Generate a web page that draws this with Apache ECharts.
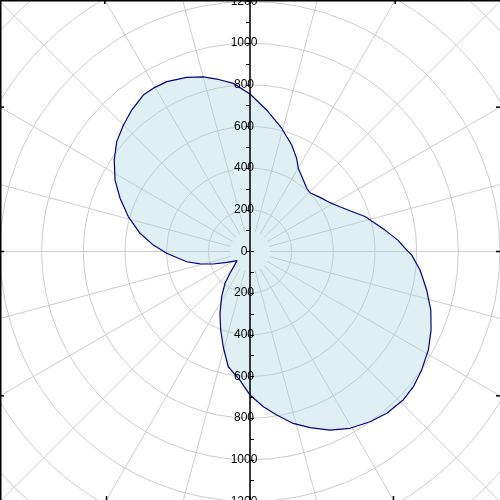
<!DOCTYPE html>
<html>
<head>
<meta charset="utf-8">
<script src="https://cdn.jsdelivr.net/npm/echarts@6/dist/echarts.min.js"></script>
<style>
  html, body { margin: 0; padding: 0; background: #fff; }
  #main { width: 500px; height: 500px; }
</style>
</head>
<body>
<div id="main"></div>
<script>
  // 曲线上读出的点：角度（度，逆时针，0 = 正东）和半径
  var angleValues = [44.4, 48.1, 53.3, 59.9, 63.4, 68.6, 75.6, 83.3, 90, 95.7, 100.9, 105.0,
    110.0, 116.1, 120.6, 124.3, 129.9, 135.0, 140.5, 146.0, 152.1, 157.7, 164.0, 170.6,
    176.2, 181.2, 189.2, 194.0, 198.8, 204.9, 215.3, 227.5, 231.8, 237.9, 244.1, 249.5,
    254.3, 259.3, 265.5, 270, 274.9, 279.3, 284.1, 288.8, 294.1, 299.5, 305.2, 310.2,
    315.9, 320.4, 325.4, 331.1, 336.6, 342.1, 347.7, 353.8, 358.8, 0.5, 4.4, 9.0,
    16.9, 22.2, 26.5, 31.4, 37.7, 44.4];
  var radiusValues = [403, 408, 428, 462, 500, 549, 611, 684, 756, 811, 843, 868,
    889, 908, 911, 909, 885, 859, 829, 786, 733, 674, 608, 535,
    465, 400, 308, 247, 186, 123, 76, 142, 194, 256, 330, 402,
    475, 563, 619, 689, 748, 795, 851, 893, 939, 975, 1000, 1017,
    1024, 1018, 1001, 978, 947, 912, 868, 821, 776, 752, 712, 656,
    577, 518, 482, 450, 425, 403];

  // 坐标轴刻度
  var radiusMax = 1800;
  var gridStep = 200;    // 同心圆、标签间隔
  var tickStep = 100;    // 半径轴小刻度间隔
  var angleStep = 15;
  var frameTickAngles = [0, 30, 60, 90, 120, 150, 180, 210, 240, 270, 300, 330];

  var W = 500, H = 500;
  var cx = 250, cy = 251.5;
  var outerR = 375;   // 1800 对应的像素半径
  var gridColor = '#cccccc';
  var labelFont = 'Liberation Sans';

  var seriesData = angleValues.map(function (a, i) {
    return [radiusValues[i], a];
  });

  // 边框上的角度刻度
  var graphics = [
    { type: 'line', shape: { x1: 0, y1: 0.75, x2: W, y2: 0.75 }, style: { stroke: '#000', lineWidth: 1.5 }, z: 10 },
    { type: 'line', shape: { x1: 0.75, y1: 0, x2: 0.75, y2: H }, style: { stroke: '#000', lineWidth: 1.5 }, z: 10 }
  ];
  frameTickAngles.forEach(function (a) {
    var rad = a * Math.PI / 180;
    var dx = Math.cos(rad), dy = -Math.sin(rad);
    var tx = Math.abs(dx) < 1e-9 ? Infinity : (dx > 0 ? (W - cx) / dx : -cx / dx);
    var ty = Math.abs(dy) < 1e-9 ? Infinity : (dy > 0 ? (H - cy) / dy : -cy / dy);
    var shape;
    if (tx < ty) {
      var py = cy + tx * dy, px = dx > 0 ? W : 0;
      shape = { x1: px, y1: py, x2: px + (dx > 0 ? -4 : 4), y2: py };
    } else {
      var qx = cx + ty * dx, qy = dy > 0 ? H : 0;
      shape = { x1: qx, y1: qy, x2: qx, y2: qy + (dy > 0 ? -4 : 4) };
    }
    graphics.push({ type: 'line', shape: shape, style: { stroke: '#000', lineWidth: 1.5 }, z: 10 });
  });

  function hiddenAngle(idx, start) {
    return {
      polarIndex: idx, type: 'value', min: 0, max: 360, startAngle: start, clockwise: false,
      axisLine: { show: false }, axisTick: { show: false }, axisLabel: { show: false },
      splitLine: { show: false }
    };
  }

  function tickLabel(skipZero) {
    return function (v) {
      if (v % gridStep !== 0) return '';
      if (skipZero && v === 0) return '';
      return String(v);
    };
  }

  var myChart = echarts.init(document.getElementById('main'));
  myChart.setOption({
    animation: false,
    backgroundColor: '#fff',
    polar: [
      { center: [cx, cy], radius: [0, outerR] },
      { center: [cx, cy], radius: [0, outerR] },
      { center: [cx, cy], radius: [0, outerR] },
      { center: [cx, cy], radius: [20, outerR] }
    ],
    angleAxis: [
      hiddenAngle(0, 0),
      hiddenAngle(1, 90),
      hiddenAngle(2, 270),
      {
        polarIndex: 3, type: 'value', min: 0, max: 360, interval: angleStep,
        startAngle: 0, clockwise: false,
        axisLine: { show: false }, axisTick: { show: false }, axisLabel: { show: false },
        splitLine: { show: true, lineStyle: { color: gridColor, width: 1 } }
      }
    ],
    radiusAxis: [
      {
        polarIndex: 0, type: 'value', min: 0, max: radiusMax, interval: gridStep,
        axisLine: { show: false }, axisTick: { show: false }, axisLabel: { show: false },
        splitLine: { show: true, lineStyle: { color: gridColor, width: 1 } }
      },
      {
        polarIndex: 1, type: 'value', min: 0, max: radiusMax, interval: tickStep, z: 5,
        axisLine: { show: true, lineStyle: { color: '#000', width: 1.5 } },
        axisTick: { show: true, inside: true, length: 4, lineStyle: { color: '#000', width: 1 } },
        axisLabel: {
          show: true, margin: 6, align: 'center', verticalAlign: 'middle', hideOverlap: false,
          color: '#000', fontSize: 12, fontFamily: labelFont,
          formatter: tickLabel(false)
        },
        splitLine: { show: false }
      },
      {
        polarIndex: 2, type: 'value', min: 0, max: radiusMax, interval: tickStep, z: 5,
        axisLine: { show: true, lineStyle: { color: '#000', width: 1.5 } },
        axisTick: { show: true, length: 4, lineStyle: { color: '#000', width: 1 } },
        axisLabel: {
          show: true, margin: -6, align: 'center', verticalAlign: 'middle', hideOverlap: false,
          color: '#000', fontSize: 12, fontFamily: labelFont,
          formatter: tickLabel(true)
        },
        splitLine: { show: false }
      },
      { polarIndex: 3, type: 'value', min: 0, max: radiusMax, show: false }
    ],
    series: [
      {
        type: 'line',
        coordinateSystem: 'polar',
        polarIndex: 0,
        data: seriesData,
        symbol: 'none',
        smooth: false,
        lineStyle: { color: '#00008b', width: 1.2 },
        areaStyle: { color: 'rgba(173,216,230,0.55)' },
        z: 3
      }
    ],
    graphic: graphics
  });
</script>
</body>
</html>
